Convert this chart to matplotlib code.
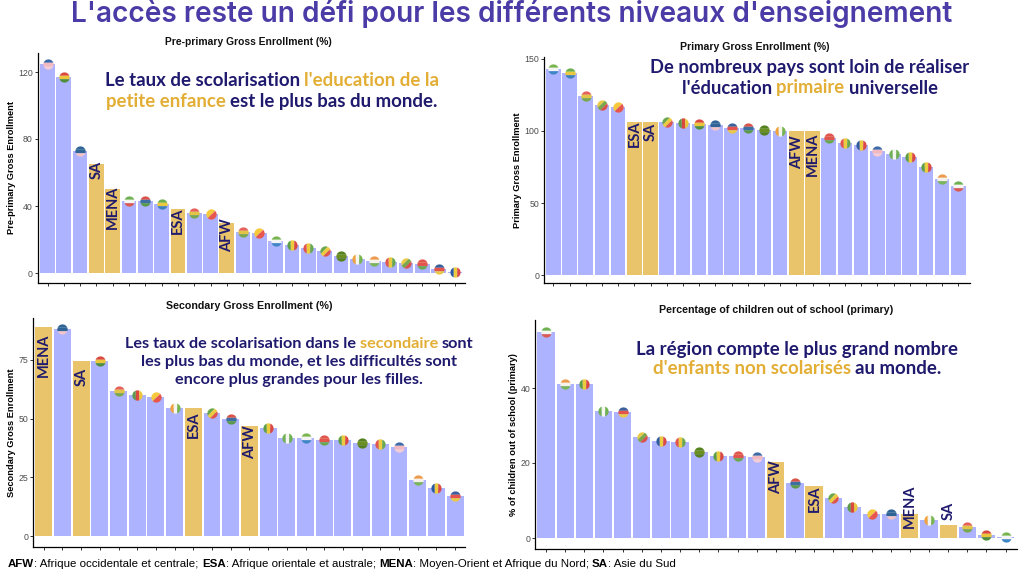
import matplotlib
matplotlib.use("Agg")
import matplotlib.pyplot as plt
import numpy as np
from matplotlib.path import Path

W, H = 1024, 574
PERIWINKLE = "#ADB3FF"
GOLD = "#E9C46A"
NAVY = "#1F1A6E"
AMBER = "#E3AE35"
TXT_FONT = ["Lato", "DejaVu Sans"]

# flags: stripe direction, then colours
flags = {
    "LR": ("h", ["#3D6AA8", "#F3B9C0", "#F6CDD2"]),
    "AO": ("h", ["#2F6496", "#2F6496", "#F0C4C8"]),
    "GH": ("h", ["#D9493F", "#EBC63B", "#4F8F3A"]),
    "TG": ("h", ["#E4625A", "#E2C447", "#78A84B"]),
    "BJ": ("d", ["#F5C93B", "#E8574E"]),
    "SL": ("h", ["#79B54F", "#F4F4F4", "#3F86C6"]),
    "GA": ("h", ["#6DAE4E", "#EBC93F", "#3E80B8"]),
    "ML": ("v", ["#5B9E46", "#EDCB3E", "#D9493F"]),
    "GN": ("v", ["#E0564C", "#EDCB3E", "#6AA84F"]),
    "CG": ("d", ["#6AA84F", "#EDCB3E", "#E0564C"]),
    "MR": ("h", ["#55811F", "#6B8F22", "#55811F"]),
    "CI": ("v", ["#F0A23C", "#F6F6F0", "#79B54F"]),
    "NG": ("v", ["#6FB052", "#F6F6F0", "#6FB052"]),
    "NE": ("h", ["#EE9A4D", "#F6F2EA", "#7AB558"]),
    "GQ": ("h", ["#6FB052", "#F6F6F0", "#DD5A52"]),
    "BF": ("h", ["#E0564C", "#E0564C", "#6AA84F"]),
    "CF": ("h", ["#3B5F9A", "#E5534B", "#E9C947"]),
    "TD": ("v", ["#2E5AA0", "#EDCB3E", "#DB4A44"]),
    "GW": ("d", ["#E9C947", "#78A84B", "#D9534B"]),
    "CM": ("v", ["#5A9A48", "#D9493F", "#EBC63B"]),
    "GM": ("h", ["#D9534B", "#3E6FA3", "#5A9A48"]),
}

# panel 1
pre_values = [125, 117, 73, 65, 50, 43, 43, 41, 38, 36, 35, 30, 24.7, 24, 19, 16.7, 15, 13, 10.3, 8.2, 7.2, 6.8, 6.2, 5.2, 2.6, 0.6]
pre_tags = {3: "SA", 4: "MENA", 8: "ESA", 11: "AFW"}
pre_flags = ["LR", "GH", "AO", None, None, "GQ", "GM", "GA", None, "TG", "BJ", None, "TG", "BJ", "SL", "ML", "GN", "CG", "MR", "CI", "NE", "GN", "GW", "BF", "CF", "TD"]

# panel 2
prim_values = [143, 140, 124, 118, 116.5, 106.5, 106.5, 106, 105.5, 105, 104, 102, 102, 100.5, 100, 100, 100, 95, 92, 90, 86, 84, 82, 75, 67, 62]
prim_tags = {5: "ESA", 6: "SA", 15: "AFW", 16: "MENA"}
prim_flags = ["SL", "GA", "TG", "GW", "BJ", None, None, "CG", "CM", "GH", "AO", "CF", "GM", "MR", "CI", None, None, "BF", "GN", "TD", "LR", "NG", "ML", "ML", "NE", "GQ"]

# panel 3
sec_values = [89, 88, 74.5, 74.5, 61.5, 60, 59, 54.5, 54.5, 52.5, 50, 47, 46, 41.5, 41.5, 41, 41, 39.5, 39, 38, 24, 20.5, 17]
sec_tags = {0: "MENA", 2: "SA", 8: "ESA", 11: "AFW"}
sec_flags = [None, "AO", None, "GH", "TG", "CM", "BJ", "CI", None, "CG", "GM", None, "ML", "NG", "SL", "BF", "ML", "MR", "GN", "LR", "NE", "TD", "CF"]

# panel 4
oos_values = [55, 41, 41, 34, 33.5, 27, 26, 25.5, 23, 22, 22, 21.5, 20.4, 14.7, 14, 10.7, 8.3, 6.5, 6.4, 6.4, 4.9, 3.6, 3, 0.7, 0.35]
oos_tags = {12: "AFW", 14: "ESA", 19: "MENA", 21: "SA"}
oos_flags = ["GQ", "NE", "ML", "NG", "CF", "GW", "TD", "GN", "MR", "ML", "BF", "LR", None, "GM", None, "CG", "CM", "BJ", "AO", None, "CI", None, "TG", "GH", "SL"]


def stripe_markers(kind, colors):
    # cut the unit circle in stripes, one marker path per colour
    edges = np.linspace(-1, 1, len(colors) + 1)
    out = []
    for k, col in enumerate(colors):
        if kind == "h":
            axis = np.array([0.0, -1.0])
        elif kind == "v":
            axis = np.array([1.0, 0.0])
        else:
            axis = np.array([0.7071, -0.7071])
        perp = np.array([-axis[1], axis[0]])
        w = np.linspace(edges[k], edges[k + 1], 13)
        half = np.sqrt(np.clip(1 - w ** 2, 0, 1))
        pts = [axis * x + perp * y for x, y in zip(w, half)] + [axis * x - perp * y for x, y in zip(w[::-1], half[::-1])]
        pts = np.array(pts)
        # the extra point keeps every stripe at the same marker scale
        verts = np.vstack([pts, pts[0], [[1, 1]]])
        codes = [Path.MOVETO] + [Path.LINETO] * (len(pts) - 1) + [Path.CLOSEPOLY, Path.MOVETO]
        out.append((Path(verts, codes), col))
    return out


def px_axes(fig, x0, x1, ytop, ybot):
    return fig.add_axes([x0 / W, 1 - ybot / H, (x1 - x0) / W, (ybot - ytop) / H])


def panel(fig, box, first, pitch, y0px, ppu, values, tags, flag_ids, yticks, ylabel, title, title_x, label_shift):
    x0, x1, ytop, ybot = box
    ax = px_axes(fig, x0, x1, ytop, ybot)
    x = np.arange(len(values))
    colors = [GOLD if i in tags else PERIWINKLE for i in x]
    ax.bar(x, values, 0.9, color=colors, zorder=2)
    for i, v, code in zip(x, values, flag_ids):
        if code is None:
            continue
        kind, cols = flags[code]
        for path, col in stripe_markers(kind, cols):
            ax.scatter(i, v, marker=path, s=55, color=col, linewidths=0, zorder=3)
    for i, tag in tags.items():
        ax.annotate(tag, (i, values[i]), xytext=(0.3, label_shift[i]), textcoords="offset points",
                    rotation=90, ha="center", va="top", fontsize=10.5, fontweight="bold",
                    color=NAVY, family=TXT_FONT, zorder=4)
    ax.set_xlim((x0 - first) / pitch, (x1 - first) / pitch)
    ax.set_ylim((y0px - ybot) / ppu, (y0px - ytop) / ppu)
    ax.set_xticks(x)
    ax.set_xticklabels([])
    ax.set_yticks(yticks)
    ax.tick_params(axis="x", length=2, width=0.7, color="#333333")
    ax.tick_params(axis="y", length=2, width=0.7, color="#333333", labelsize=6.3, labelcolor="#4D4D4D", pad=1.5)
    for lab in ax.get_yticklabels():
        lab.set_family("Liberation Sans")
    ax.spines["top"].set_visible(False)
    ax.spines["right"].set_visible(False)
    ax.spines["left"].set_linewidth(0.9)
    ax.spines["bottom"].set_linewidth(0.9)
    ax.set_ylabel(ylabel, fontsize=6.7, fontweight="bold", family="Liberation Sans", labelpad=1.5)
    fig.text(title_x / W, 1 - title[1] / H, title[0], ha="center", va="center", fontsize=title[2],
             fontweight="bold", family="Liberation Sans", color="#111111")
    return ax


def color_line(fig, parts, cx, y, size, font=TXT_FONT):
    # one line of text with coloured words, centred on cx (pixels)
    r = fig.canvas.get_renderer()
    items = []
    for s, c, w in parts:
        t = fig.text(0, 1 - y / H, s, color=c, fontsize=size, fontweight=w, family=font, va="center", ha="left")
        items.append(t)
    widths = [t.get_window_extent(r).width for t in items]
    xpos = cx - sum(widths) / 2
    for t, wd in zip(items, widths):
        t.set_x(xpos / W)
        xpos += wd


fig = plt.figure(figsize=(W / 100, H / 100), dpi=100)

panel(fig, (37.5, 465, 53, 283), 47.5, 16.3, 273, 1.675, pre_values, pre_tags, pre_flags, [0, 40, 80, 120],
      "Pre-primary Gross Enrollment", ("Pre-primary Gross Enrollment (%)", 42, 7.35), 248,
      {3: 2.5, 4: 2.5, 8: 1, 11: 3.2})
panel(fig, (544, 970, 57, 283), 553.3, 16.2, 275, 1.44, prim_values, prim_tags, prim_flags, [0, 50, 100, 150],
      "Primary Gross Enrollment", ("Primary Gross Enrollment (%)", 47, 7.6), 755,
      {5: 1, 6: -1, 15: -3.2, 16: -1})
panel(fig, (33, 465, 318, 547), 43.7, 18.7, 536, 2.35, sec_values, sec_tags, sec_flags, [0, 25, 50, 75],
      "Secondary Gross Enrollment", ("Secondary Gross Enrollment (%)", 306, 7.7), 249,
      {0: -4.7, 2: -4.7, 8: -2.5, 11: 0.4})
panel(fig, (535, 1017, 320, 549), 546, 19.15, 538, 3.75, oos_values, oos_tags, oos_flags, [0, 20, 40],
      "% of children out of school (primary)", ("Percentage of children out of school (primary)", 310, 7.7), 776,
      {12: 1, 14: 0, 19: 21.2, 21: 16})

fig.text(512 / W, 1 - 14 / H, "L'accès reste un défi pour les différents niveaux d'enseignement",
         ha="center", va="center", fontsize=20.2, fontweight="semibold", family=["Inter", "DejaVu Sans"], color="#4A3BA6")

color_line(fig, [("Le taux de scolarisation ", NAVY, "bold"), ("l'education de la", AMBER, "bold")], 272, 80, 13.4)
color_line(fig, [("petite enfance ", AMBER, "bold"), ("est le plus bas du monde.", NAVY, "bold")], 272, 101, 13.4)
color_line(fig, [("De nombreux pays sont loin de réaliser", NAVY, "bold")], 810, 68, 13.2)
color_line(fig, [("l'éducation ", NAVY, "bold"), ("primaire ", AMBER, "bold"), ("universelle", NAVY, "bold")], 810, 88, 13.2)
color_line(fig, [("Les taux de scolarisation dans le ", NAVY, "bold"), ("secondaire ", AMBER, "bold"), ("sont", NAVY, "bold")], 299, 344, 11.7)
color_line(fig, [("les plus bas du monde, et les difficultés sont", NAVY, "bold")], 299, 362, 11.7)
color_line(fig, [("encore plus grandes pour les filles.", NAVY, "bold")], 299, 380, 11.7)
color_line(fig, [("La région compte le plus grand nombre", NAVY, "bold")], 797, 349, 13.4)
color_line(fig, [("d'enfants non scolarisés ", AMBER, "bold"), ("au monde.", NAVY, "bold")], 797, 369, 13.4)

color_line(fig, [("AFW", "black", "bold"), (": Afrique occidentale et centrale; ", "black", "normal"),
                 ("ESA", "black", "bold"), (": Afrique orientale et australe; ", "black", "normal"),
                 ("MENA", "black", "bold"), (": Moyen-Orient et Afrique du Nord; ", "black", "normal"),
                 ("SA", "black", "bold"), (": Asie du Sud", "black", "normal")],
           342, 564, 8.28, font="Liberation Sans")

fig.savefig("out.png", dpi=100)
